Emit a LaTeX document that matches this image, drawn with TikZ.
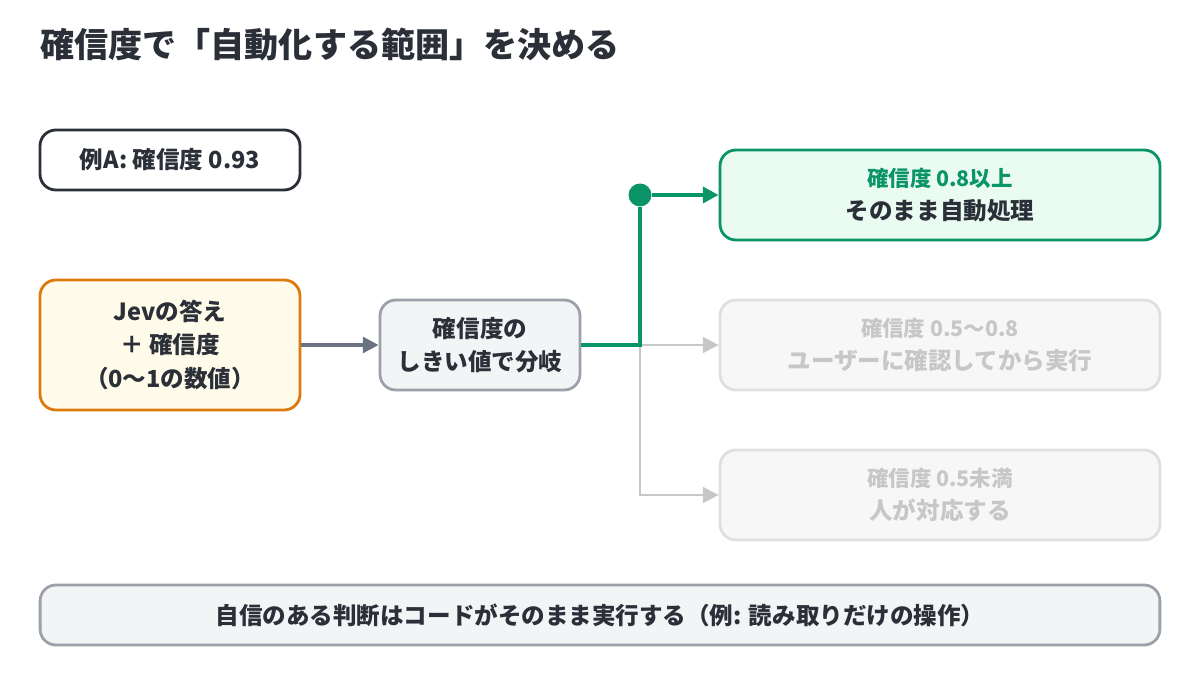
\documentclass[tikz,border=0pt]{standalone}
\usepackage{fontspec}
\setmainfont{Noto Sans CJK JP}
\usetikzlibrary{positioning,arrows.meta}
\definecolor{okgreen}{HTML}{0A9468}
\definecolor{okfill}{HTML}{EAFBF2}
\definecolor{orng}{HTML}{DC7A0E}
\definecolor{orfill}{HTML}{FFFBEB}
\definecolor{slate}{HTML}{9CA0A8}
\definecolor{slfill}{HTML}{F2F4F6}
\definecolor{faint}{HTML}{DDDFE3}
\definecolor{ink}{HTML}{2B2F38}
\definecolor{arrowgray}{HTML}{6B7280}
\tikzset{
  box/.style={rounded corners=9pt, line width=1.6pt, align=center, font=\bfseries\fontsize{13.4}{19}\selectfont, text=ink, inner sep=0pt},
  dim/.style={box, draw=faint, fill=white!97!black, text=black!22},
  flow/.style={line width=2pt, -{Triangle[length=9pt,width=9pt]}}
}
\begin{document}
\begin{tikzpicture}[x=0.02cm,y=-0.02cm]
\useasboundingbox (0,0) rectangle (1200,675);
\node[anchor=west, inner sep=0pt, font=\bfseries\fontsize{19.4}{22}\selectfont, text=ink] (title) at (40,45) {確信度で「自動化する範囲」を決める};
\node[box, draw=ink, fill=white, minimum width=5.2cm, minimum height=1.2cm] (exA) at (170,160) {例A: 確信度 0.93};
\node[box, draw=orng, fill=orfill, minimum width=5.2cm, minimum height=2.6cm] (inp) at (170,345) {Jevの答え\\＋ 確信度\\（0〜1の数値）};
\node[box, draw=slate, fill=slfill, minimum width=4cm, minimum height=1.8cm] (br) at (480,345) {確信度の\\しきい値で分岐};
\node[box, draw=okgreen, fill=okfill, minimum width=8.8cm, minimum height=1.8cm] (hi) at (940,195) {{\color{okgreen}\fontsize{12.2}{19}\selectfont 確信度 0.8以上}\\そのまま自動処理};
\node[dim, minimum width=8.8cm, minimum height=1.8cm] (mid) at (940,345) {{\fontsize{12.2}{19}\selectfont 確信度 0.5〜0.8}\\ユーザーに確認してから実行};
\node[dim, minimum width=8.8cm, minimum height=1.8cm] (lo) at (940,495) {{\fontsize{12.2}{19}\selectfont 確信度 0.5未満}\\人が対応する};
\node[box, draw=slate, fill=slfill, minimum width=22.4cm, minimum height=1.2cm] (note) at (600,615) {自信のある判断はコードがそのまま実行する（例: 読み取りだけの操作）};
\coordinate (jn) at (640,345);
\coordinate (jl) at (640,495);
\node[circle, fill=okgreen, minimum size=0.46cm, inner sep=0pt] (dot) at (640,195) {};
% branches
\draw[flow, draw=black!22, line width=1.5pt] (jn) -- (mid.west);
\draw[flow, draw=black!22, line width=1.5pt] (jn) -- (jl) -- (lo.west);
\draw[line width=2.5pt, okgreen] (br.east) -- (jn) -- (dot);
\draw[flow, okgreen, line width=2.5pt] (dot) -- (hi.west);
\draw[flow, draw=arrowgray] (inp.east) -- (br.west);
\end{tikzpicture}
\end{document}
